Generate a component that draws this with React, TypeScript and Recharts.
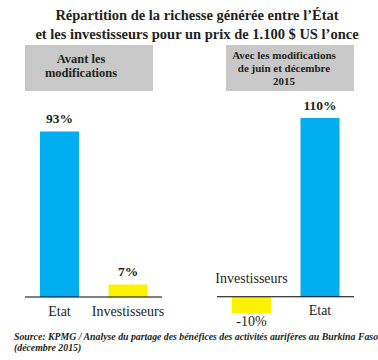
import { Bar, BarChart, Cell, LabelList, ReferenceLine, XAxis, YAxis } from 'recharts';

// Avant les modifications
const CATEGORIES_BEFORE = ['Etat', 'Investisseurs'];
const SHARES_BEFORE = [93, 7];

// Avec les modifications de juin et décembre 2015
const CATEGORIES_AFTER = ['Investisseurs', 'Etat'];
const SHARES_AFTER = [-10, 110];

const COLORS: Record<string, string> = { Etat: '#00AEEF', Investisseurs: '#FFF200' };
const INK = '#231f20';
const SERIF = '"Liberation Serif", "DejaVu Serif", serif';

function makeLabel(categories: string[], shares: number[]) {
  return (props: any) => {
    const { x, y, width, height, index } = props;
    const value = shares[index];
    const top = Math.min(y, y + height);
    const bottom = Math.max(y, y + height);
    const cx = x + width / 2;
    const txt = { fontFamily: SERIF, fill: INK, fontSize: 14 } as React.CSSProperties;
    if (value < 0) {
      return (
        <g>
          <text x={cx} y={bottom + 8} textAnchor="middle" dominantBaseline="central" style={txt}>
            {value}%
          </text>
          <text x={cx} y={top - 18} textAnchor="middle" dominantBaseline="central" style={txt}>
            {categories[index]}
          </text>
        </g>
      );
    }
    return (
      <g>
        <text
          x={cx}
          y={top - 13}
          textAnchor="middle"
          dominantBaseline="central"
          style={{ ...txt, fontSize: 13.5, fontWeight: 'bold' }}
        >
          {value}%
        </text>
        <text x={cx} y={bottom + 14} textAnchor="middle" dominantBaseline="central" style={txt}>
          {categories[index]}
        </text>
      </g>
    );
  };
}

function Panel({
  categories,
  shares,
  domain,
  width,
  margin,
}: {
  categories: string[];
  shares: number[];
  domain: [number, number];
  width: number;
  margin: { top: number; right: number; bottom: number; left: number };
}) {
  const data = categories.map((name, i) => ({ name, share: shares[i] }));
  return (
    <BarChart width={width} height={360} data={data} margin={margin}>
      <XAxis dataKey="name" hide />
      <YAxis type="number" domain={domain} hide />
      <ReferenceLine y={0} stroke="#000" strokeWidth={1.2} />
      <Bar dataKey="share" barSize={39} isAnimationActive={false}>
        {data.map((d) => (
          <Cell key={d.name} fill={COLORS[d.name]} />
        ))}
        <LabelList dataKey="share" content={makeLabel(categories, shares)} />
      </Bar>
    </BarChart>
  );
}

const boxStyle: React.CSSProperties = {
  position: 'absolute',
  top: 45,
  height: 46,
  width: 128,
  background: '#c8c8c8',
  fontWeight: 'bold',
  color: INK,
  textAlign: 'center',
};

export default function App() {
  return (
    <div
      style={{
        position: 'absolute',
        left: 0,
        top: 0,
        width: 378,
        height: 360,
        background: '#fff',
        fontFamily: SERIF,
        overflow: 'hidden',
      }}
    >
      <div
        style={{
          position: 'absolute',
          left: 8,
          top: 6,
          width: 378,
          textAlign: 'center',
          fontWeight: 'bold',
          fontSize: 14.5,
          lineHeight: '19px',
          color: INK,
        }}
      >
        Répartition de la richesse générée entre l’État
        <br />
        et les investisseurs pour un prix de 1.100 $ US l’once
      </div>

      <div style={{ ...boxStyle, left: 25 }}>
        <div style={{ position: 'absolute', left: 0, top: 7, width: 112, fontSize: 12.5, lineHeight: '14px' }}>
          Avant les
          <br />
          modifications
        </div>
      </div>
      <div style={{ ...boxStyle, left: 226 }}>
        <div style={{ position: 'absolute', left: 0, top: 4, width: 116, fontSize: 11, lineHeight: '13px' }}>
          Avec les modifications
          <br />
          de juin et décembre
          <br />
          2015
        </div>
      </div>

      <div style={{ position: 'absolute', left: 0, top: 0 }}>
        <Panel
          categories={CATEGORIES_BEFORE}
          shares={SHARES_BEFORE}
          domain={[0, 100]}
          width={190}
          margin={{ top: 119, right: 28, bottom: 63, left: 25 }}
        />
      </div>
      <div style={{ position: 'absolute', left: 190, top: 0 }}>
        <Panel
          categories={CATEGORIES_AFTER}
          shares={SHARES_AFTER}
          domain={[-10, 110]}
          width={188}
          margin={{ top: 118, right: 24, bottom: 47, left: 27 }}
        />
      </div>

      <div
        style={{
          position: 'absolute',
          left: 14,
          top: 331,
          fontSize: 9.8,
          lineHeight: '11px',
          fontStyle: 'italic',
          fontWeight: 'bold',
          whiteSpace: 'nowrap',
          color: INK,
        }}
      >
        Source: KPMG / Analyse du partage des bénéfices des activités aurifères au Burkina Faso
        <br />
        (décembre 2015)
      </div>
    </div>
  );
}
